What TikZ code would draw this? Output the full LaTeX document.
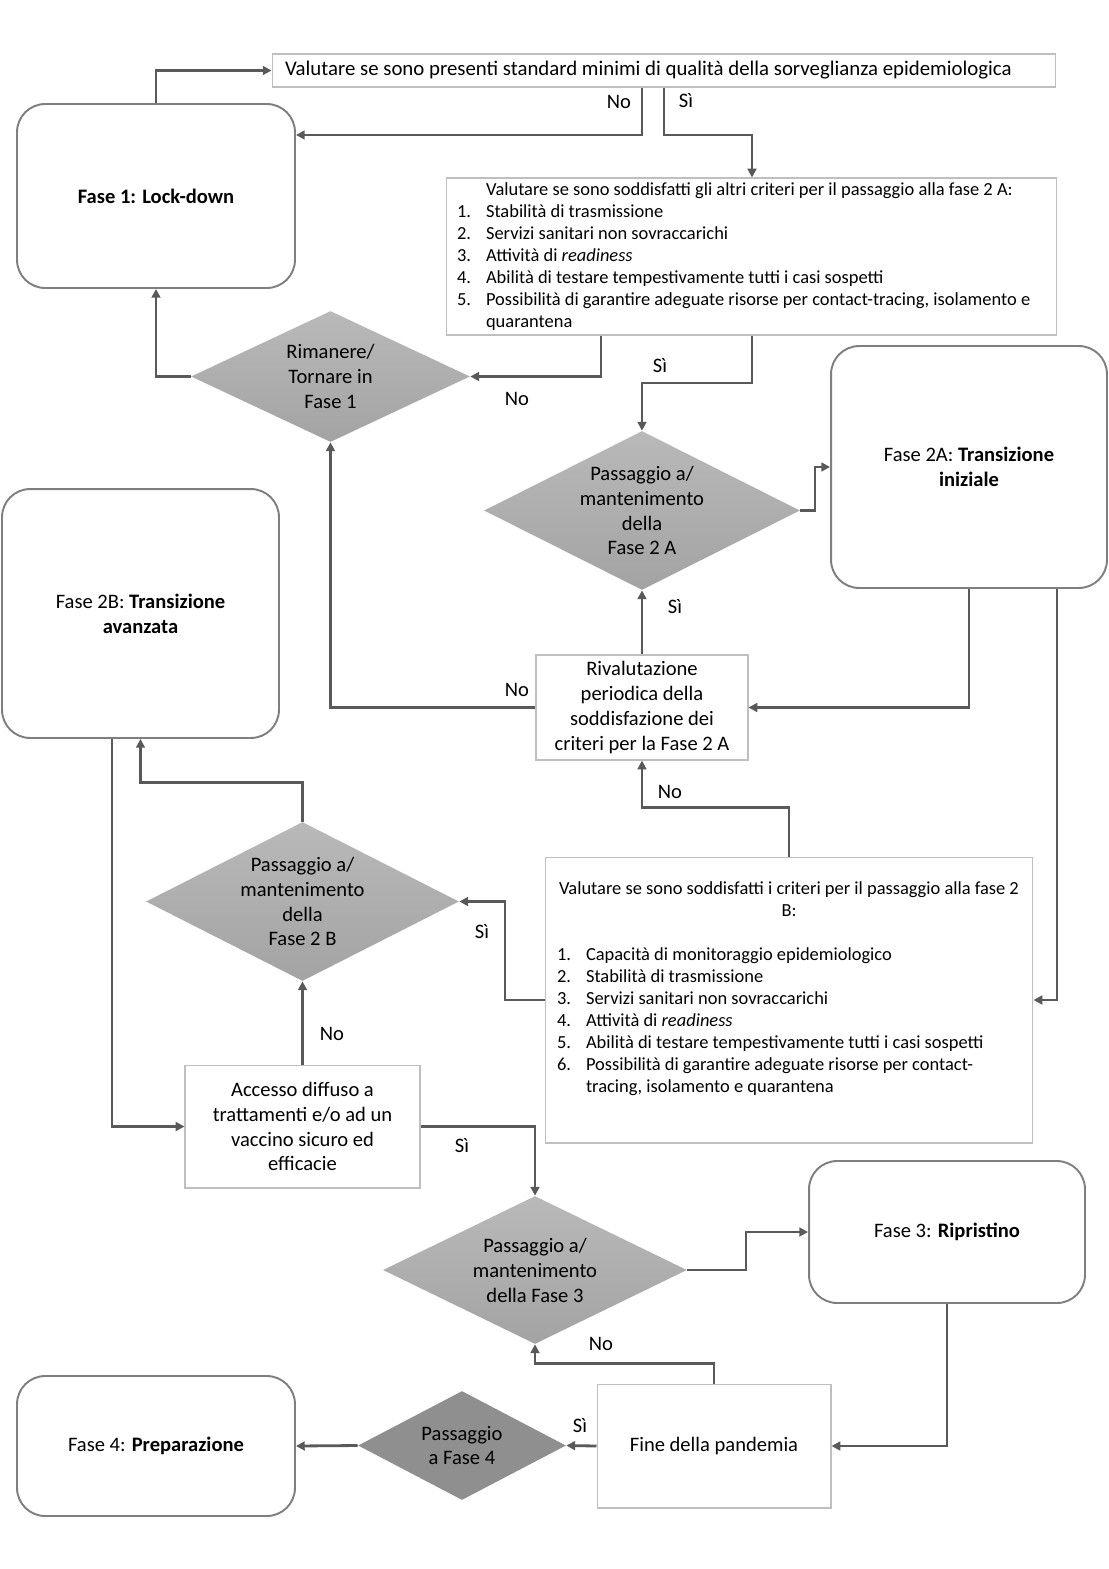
\documentclass[tikz,border=0pt]{standalone}
\usepackage{fontspec}
\setmainfont{Carlito}
\usetikzlibrary{arrows.meta, shapes.geometric}
\definecolor{linegray}{HTML}{595959}
\definecolor{boxgray}{HTML}{BFBFBF}
\definecolor{phasegray}{HTML}{7F7F7F}
\newcommand{\nr}[1]{\makebox[0.58cm][l]{#1}}

\begin{document}
\begin{tikzpicture}[
  x=0.02cm, y=-0.02cm,
  txt/.style={font=\fontsize{11.7}{14.2}\selectfont},
  small/.style={font=\fontsize{10.5}{12.5}\selectfont},
  plainbox/.style={draw=boxgray, line width=0.6pt, fill=white, inner sep=2pt, align=center, txt},
  phase/.style={draw=phasegray, line width=1.1pt, fill=white, rounded corners=16pt, align=center, txt},
  dec/.style={diamond, draw=none, top color=gray!55, bottom color=gray!72, inner sep=0pt,
              shape aspect=2, align=center, txt},
  flow/.style={-{Triangle[length=5pt, width=5pt]}, linegray, line width=1.6pt},
  lbl/.style={txt, inner sep=0pt},
]
\useasboundingbox (0,0) rectangle (1109,1569);

% top: surveillance standards
\node[plainbox, align=flush left, inner xsep=0.26cm, text width=15.16cm,
      font=\fontsize{11.85}{14.2}\selectfont, minimum height=0.66cm] (std) at (664,70.5)
  {Valutare se sono presenti standard minimi di qualità della sorveglianza epidemiologica};
\node[phase, minimum width=5.56cm, minimum height=3.68cm] (fase1) at (156,196)
  {\textbf{Fase 1: Lock-down}};
\node[plainbox, small, align=flush left, inner xsep=0.22cm, text width=11.78cm,
      minimum height=3.14cm] (crit2a) at (751.5,256.5)
  {\nr{}Valutare se sono soddisfatti gli altri criteri per il passaggio alla fase 2 A:\\
   \nr{1.}Stabilità di trasmissione\\
   \nr{2.}Servizi sanitari non sovraccarichi\\
   \nr{3.}Attività di \textit{readiness}\\
   \nr{4.}Abilità di testare tempestivamente tutti i casi sospetti\\
   \nr{5.}Possibilità di garantire adeguate risorse per contact-tracing, isolamento e\\
   \nr{}quarantena};
\node[dec, minimum width=5.58cm, minimum height=2.62cm] (rimanere) at (330.5,376.5)
  {Rimanere/\\Tornare in\\Fase 1};

% phase 2A
\node[dec, minimum width=6.32cm, minimum height=3.18cm] (pass2a) at (642,510.5)
  {Passaggio a/\\mantenimento\\della\\Fase 2 A};
\node[phase, minimum width=5.52cm, minimum height=4.84cm] (fase2a) at (969,467)
  {Fase 2A: \textbf{Transizione}\\\textbf{iniziale}};
\node[plainbox, minimum width=4.24cm, minimum height=2.1cm] (rival) at (642,707.5)
  {Rivalutazione\\periodica della\\soddisfazione dei\\criteri per la Fase 2 A};

% phase 2B
\node[phase, minimum width=5.54cm, minimum height=4.98cm] (fase2b) at (140.5,613.5)
  {Fase 2B: \textbf{Transizione}\\\textbf{avanzata}};
\node[dec, minimum width=6.26cm, minimum height=3.18cm] (pass2b) at (302.5,901.5)
  {Passaggio a/\\mantenimento\\della\\Fase 2 B};
\node[plainbox, small, align=flush left, inner xsep=0.24cm, text width=9.28cm,
      minimum height=5.72cm] (crit2b) at (789,1000)
  {\makebox[\linewidth][c]{Valutare se sono soddisfatti i criteri per il passaggio alla fase 2}\\
   \makebox[\linewidth][c]{B:}\\
   \mbox{}\\
   \nr{1.}Capacità di monitoraggio epidemiologico\\
   \nr{2.}Stabilità di trasmissione\\
   \nr{3.}Servizi sanitari non sovraccarichi\\
   \nr{4.}Attività di \textit{readiness}\\
   \nr{5.}Abilità di testare tempestivamente tutti i casi sospetti\\
   \nr{6.}Possibilità di garantire adeguate risorse per contact-\\
   \nr{}tracing, isolamento e quarantena\\[2pt]
   \mbox{}};
\node[plainbox, minimum width=4.7cm, minimum height=2.46cm] (accesso) at (302.5,1126.5)
  {Accesso diffuso a\\trattamenti e/o ad un\\vaccino sicuro ed\\efficacie};

% phases 3 and 4
\node[dec, minimum width=6.08cm, minimum height=2.96cm] (pass3) at (535,1270)
  {Passaggio a/\\mantenimento\\della Fase 3};
\node[phase, minimum width=5.52cm, minimum height=2.84cm] (fase3) at (947,1232)
  {Fase 3: \textbf{Ripristino}};
\node[plainbox, minimum width=4.68cm, minimum height=2.48cm] (fine) at (714,1446)
  {Fine della pandemia};
\node[dec, top color=black!44, bottom color=black!44,
      minimum width=4.16cm, minimum height=2.18cm] (pass4) at (462,1445.5)
  {Passaggio\\a Fase 4};
\node[phase, minimum width=5.56cm, minimum height=2.8cm] (fase4) at (156,1446)
  {Fase 4: \textbf{Preparazione}};

% connectors
\draw[flow] (fase1.north) |- (std.west);
\draw[flow] (std.south -| 642,0) |- (fase1.east |- 0,135);
\draw[flow] (std.south -| 664,0) -- (664,135) -| (crit2a.north -| 752,0);
\draw[flow] (crit2a.south -| 601,0) |- (rimanere.east);
\draw[flow] (crit2a.south -| 752,0) -- (752,383) -| (pass2a.north);
\draw[flow] (rimanere.west) -| (fase1.south);
\draw[flow] (rival.west) -| (rimanere.south);
\draw[flow] (pass2a.east) -- (815,510.5) |- (fase2a.west);
\draw[flow] (fase2a.south) |- (rival.east);
\draw[flow] (fase2a.south -| 1057,0) |- (crit2b.east);
\draw[flow] (rival.north) -- (pass2a.south);
\draw[flow] (crit2b.north) -- ++(0,-49) -| (rival.south);
\draw[flow] (crit2b.west) -- (505,1000) |- (pass2b.east);
\draw[flow] (pass2b.north) -- ++(0,-39) -| (fase2b.south);
\draw[flow] (accesso.north) -- (pass2b.south);
\draw[flow] (fase2b.south -| 112,0) |- (accesso.west);
\draw[flow] (accesso.east) -| (pass3.north);
\draw[flow] (pass3.east) -- (746,1270) |- (fase3.west);
\draw[flow] (fase3.south) |- (fine.east);
\draw[flow] (fine.north) -- ++(0,-20) -| (pass3.south);
\draw[flow] (fine.west) -- (pass4.east);
\draw[flow] (pass4.west) -- (fase4.east);

% branch labels
\node[lbl] (l1) at (619,102) {No};
\node[lbl] (l2) at (686,101) {Sì};
\node[lbl] (l3) at (517,399) {No};
\node[lbl] (l4) at (660,366) {Sì};
\node[lbl] (l5) at (675,607) {Sì};
\node[lbl] (l6) at (517,690) {No};
\node[lbl] (l7) at (670,792) {No};
\node[lbl] (l8) at (482,932) {Sì};
\node[lbl] (l9) at (332,1034) {No};
\node[lbl] (l10) at (462,1146) {Sì};
\node[lbl] (l11) at (601,1344) {No};
\node[lbl] (l12) at (580,1426) {Sì};
\end{tikzpicture}
\end{document}
